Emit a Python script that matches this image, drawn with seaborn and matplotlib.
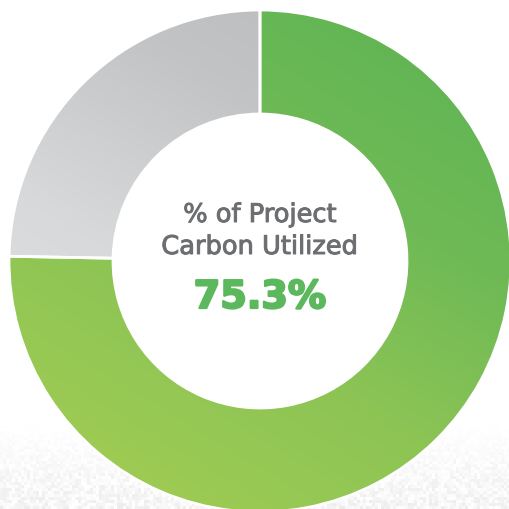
import numpy as np
import matplotlib
matplotlib.use("Agg")
import matplotlib.pyplot as plt
import matplotlib.patheffects as pe
import seaborn as sns
from matplotlib.colors import LinearSegmentedColormap

# Share of project carbon
labels = ["Utilized", "Remaining"]
shares = [75.3, 24.7]
title_lines = ["% of Project", "Carbon Utilized"]
value_text = "75.3%"

sns.set_theme(style="white")
plt.rcParams["font.family"] = ["DejaVu Sans"]

W, H = 509, 510
fig = plt.figure(figsize=(W / 100, H / 100), dpi=100)
ax = fig.add_axes([0, 0, 1, 1])
ax.set_axis_off()

cx, cy = 260, 248
r_out, r_in = 251, 147

# grainy paper texture fading in toward the bottom
rng = np.random.default_rng(7)
small = rng.random((H // 3 + 1, W // 3 + 1))
grain = np.kron(small, np.ones((3, 3)))[:H, :W]
yy = np.arange(H)[:, None] * np.ones((1, W))  # image rows, top = 0
ramp = np.clip((yy - 420) / 90.0, 0, 1)
bg = 1.0 - ramp * 0.08 * grain
ax.imshow(bg, cmap="gray", vmin=0, vmax=1, extent=(0, W, 0, H),
          origin="upper", zorder=0, interpolation="nearest")

wedges, _ = ax.pie(shares, labels=None, startangle=90, counterclock=False,
                   center=(cx, cy), radius=r_out,
                   wedgeprops=dict(width=r_out - r_in, edgecolor="white",
                                   linewidth=2.0, facecolor="none"))

# gradients running from the top (upper right) down to the lower left
gx, gy = np.meshgrid(np.linspace(cx - r_out, cx + r_out, 300),
                     np.linspace(cy - r_out, cy + r_out, 300))
t = (0.6 * (cx + r_out - gx) + 1.0 * (cy + r_out - gy)) / (3.2 * r_out)
grad_maps = [
    LinearSegmentedColormap.from_list(
        "g", [(0, "#5cb354"), (0.35, "#6fba56"), (0.6, "#8cc455"), (1, "#a6ce53")]),
    LinearSegmentedColormap.from_list(
        "s", [(0, "#b8b9bb"), (0.3, "#c2c3c5"), (0.6, "#d8d9db"), (1, "#e3e4e6")]),
]
for wedge, cmap in zip(wedges, grad_maps):
    im = ax.imshow(t, cmap=cmap, vmin=0, vmax=1, origin="lower",
                   extent=(cx - r_out, cx + r_out, cy - r_out, cy + r_out),
                   zorder=1, interpolation="bilinear")
    im.set_clip_path(wedge)
    wedge.set_zorder(2)

grey = "#6d6e71"
green = "#5cb85c"
thin = [pe.withStroke(linewidth=0.7, foreground=grey)]
thick = [pe.withStroke(linewidth=1.6, foreground=green)]
ax.text(cx, 287, title_lines[0], ha="center", va="baseline",
        fontsize=18.5, color=grey, zorder=3, path_effects=thin)
ax.text(cx, 255, title_lines[1], ha="center", va="baseline",
        fontsize=18.5, color=grey, zorder=3, path_effects=thin)
ax.text(cx, 201, value_text, ha="center", va="baseline",
        fontsize=27.5, fontweight="bold", color=green, zorder=3,
        path_effects=thick)

ax.set_xlim(0, W)
ax.set_ylim(0, H)
ax.set_aspect("auto")
fig.savefig("out.png", dpi=100)
